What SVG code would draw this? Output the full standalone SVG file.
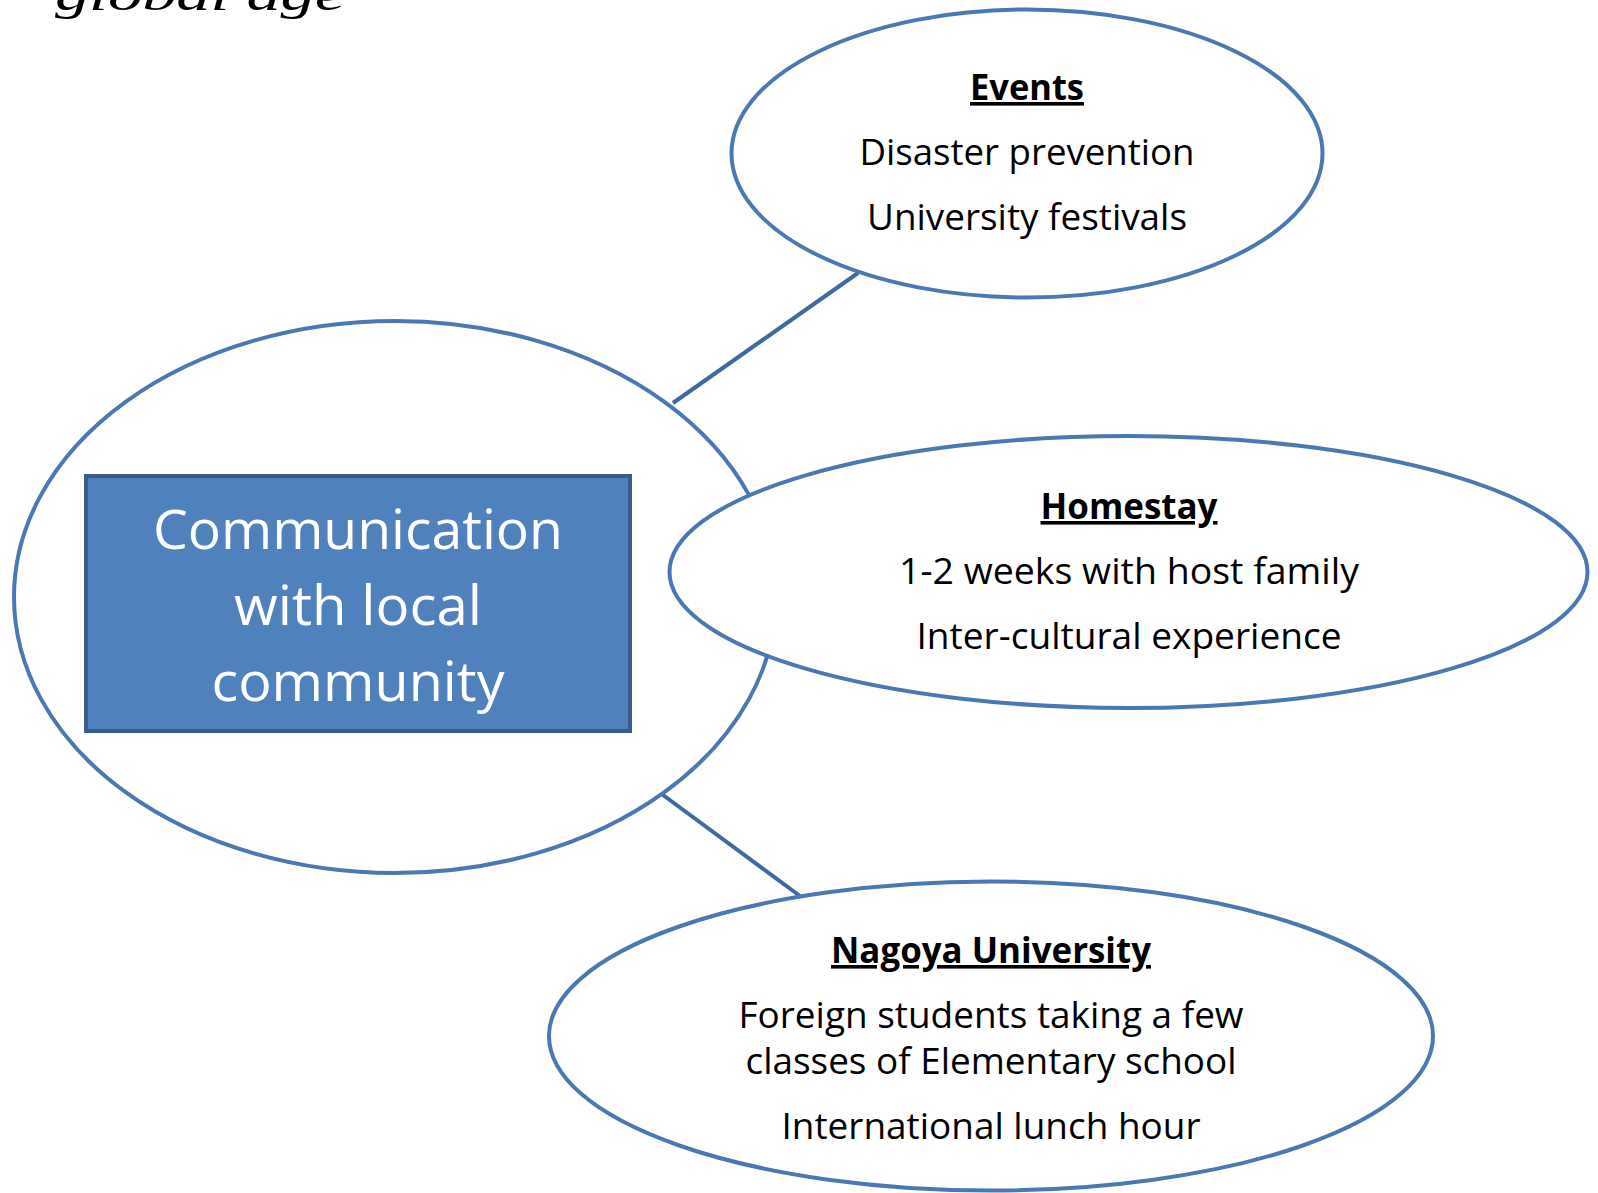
<svg xmlns="http://www.w3.org/2000/svg" width="1598" height="1193" viewBox="0 0 1598 1193">
  <style>
    .bubble { fill: #ffffff; stroke: #4a78b2; stroke-width: 4; }
    .conn { stroke: #3d6a9f; stroke-width: 4; fill: none; }
    .head { font-family: "Open Sans", "Liberation Sans", sans-serif; font-weight: bold; font-size: 36px; fill: #000; text-anchor: middle; text-decoration: underline; }
    .body { font-family: "Open Sans", "Liberation Sans", sans-serif; font-size: 36px; fill: #000; text-anchor: middle; }
    .title { font-family: "Open Sans", "Liberation Sans", sans-serif; font-size: 55px; fill: #ffffff; text-anchor: middle; }
    .top { font-family: "Liberation Serif", serif; font-style: italic; font-size: 44px; fill: #000; }
  </style>
  <rect width="1598" height="1193" fill="#ffffff"/>
  <text class="top" x="55" y="10" textLength="290" lengthAdjust="spacingAndGlyphs">global age</text>

  <g id="center">
    <ellipse class="bubble" cx="395" cy="597" rx="381" ry="276"/>
    <rect x="86" y="476" width="544" height="255" fill="#4f81bd" stroke="#385d8a" stroke-width="4"/>
    <text class="title" x="358" y="549" textLength="410" lengthAdjust="spacingAndGlyphs">Communication</text>
    <text class="title" x="358" y="625" textLength="248" lengthAdjust="spacingAndGlyphs">with local</text>
    <text class="title" x="358" y="701" textLength="293" lengthAdjust="spacingAndGlyphs">community</text>
  </g>

  <g id="connectors">
    <line class="conn" x1="673" y1="403" x2="858" y2="273"/>
    <line class="conn" x1="663" y1="795" x2="800" y2="896"/>
  </g>

  <g id="events">
    <ellipse class="bubble" cx="1027" cy="153.5" rx="295.5" ry="144"/>
    <text class="head" x="1027" y="100" textLength="114" lengthAdjust="spacingAndGlyphs">Events</text>
    <text class="body" x="1027" y="165" textLength="335" lengthAdjust="spacingAndGlyphs">Disaster prevention</text>
    <text class="body" x="1027" y="230" textLength="320" lengthAdjust="spacingAndGlyphs">University festivals</text>
  </g>

  <g id="homestay">
    <ellipse class="bubble" cx="1128.5" cy="572" rx="459" ry="136"/>
    <text class="head" x="1129" y="519" textLength="177" lengthAdjust="spacingAndGlyphs">Homestay</text>
    <text class="body" x="1129" y="584" textLength="460" lengthAdjust="spacingAndGlyphs">1-2 weeks with host family</text>
    <text class="body" x="1129" y="649" textLength="425" lengthAdjust="spacingAndGlyphs">Inter-cultural experience</text>
  </g>

  <g id="nagoya">
    <ellipse class="bubble" cx="991" cy="1036" rx="442" ry="154.5"/>
    <text class="head" x="991" y="963" textLength="320" lengthAdjust="spacingAndGlyphs">Nagoya University</text>
    <text class="body" x="991" y="1028" textLength="505" lengthAdjust="spacingAndGlyphs">Foreign students taking a few</text>
    <text class="body" x="991" y="1074" textLength="491" lengthAdjust="spacingAndGlyphs">classes of Elementary school</text>
    <text class="body" x="991" y="1139" textLength="419" lengthAdjust="spacingAndGlyphs">International lunch hour</text>
  </g>
</svg>
